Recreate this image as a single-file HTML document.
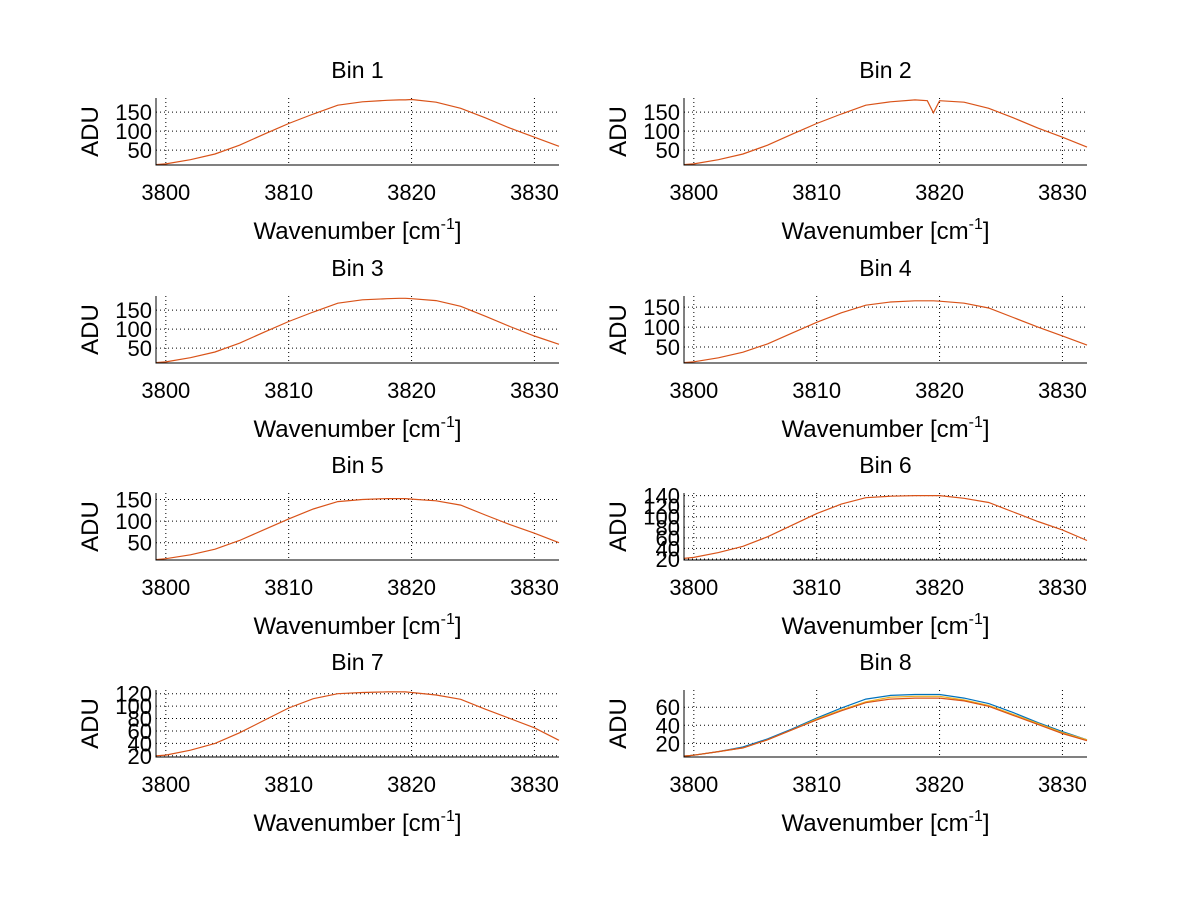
<!DOCTYPE html>
<html><head><meta charset="utf-8">
<style>
html,body{margin:0;padding:0;background:#fff;}
svg{display:block;font-family:"Liberation Sans",Arial,sans-serif;}
</style></head>
<body>
<svg id="fig" width="1200" height="901" viewBox="0 0 1200 901" xmlns="http://www.w3.org/2000/svg">
<rect width="1200" height="901" fill="#fff"/>
</svg>
<script>
// wavenumber sample positions
const wavenumbers = [3799.2,3800,3802,3804,3806,3808,3810,3812,3814,3816,3818,3819,3819.5,3820,3822,3824,3826,3828,3830,3832];
const xTicks = [3800,3810,3820,3830];
const binTitles = ["Bin 1","Bin 2","Bin 3","Bin 4","Bin 5","Bin 6","Bin 7","Bin 8"];
const yRanges = [[11,187],[11,187],[11,187],[10,178],[10,165],[18,145],[18,126],[5,79]];
const yTickSets = [[50,100,150],[50,100,150],[50,100,150],[50,100,150],[50,100,150],[20,40,60,80,100,120,140],[20,40,60,80,100,120],[20,40,60]];
const bin1 = [12,14,25,40,63,92,120,145,168,177,181,182,182,183,176,160,135,108,84,60];
const bin2 = [12,14,25,40,63,92,120,145,168,177,182,180,148,180,176,160,135,108,84,58];
const bin3 = [12,14,25,40,63,92,120,145,168,177,180,181,181,180,175,160,134,107,82,60];
const bin4 = [11,13,23,37,58,85,112,136,155,163,166,166,166,165,160,148,124,100,78,55];
const bin5 = [11,13,22,35,55,80,105,128,145,150,152,152,152,151,147,137,114,92,72,50];
const bin6 = [21,23,32,44,62,84,106,124,136,139,140,140,140,140,135,127,109,91,75,55];
const bin7 = [20,21,29,40,57,77,97,112,120,122,123,123,123,122,118,111,95,80,65,45];
const bin8blue = [6,7,11,16,25,36,48,59,69,73,74,74,74,74,70,64,54,43,33,24];
const bin8orange = [6,7,11,15,24,35,46,56,65,69,70,70,70,70,67,61,51,41,31,23];
const bin8yellow = [6,7,11,15,24,35,47,57,66,71,72,72,72,72,68,62,52,42,32,24];
const binSeries = [[bin1],[bin2],[bin3],[bin4],[bin5],[bin6],[bin7],[bin8blue,bin8yellow,bin8orange]];

const NS = "http://www.w3.org/2000/svg";
const svg = document.getElementById('fig');
const colLeft = [156,684], axW = 403, rowTop = [98,296,493,690], axH = 67;
const xMin = 3799.2, xMax = 3832;
function mk(tag, attrs, parent){const e=document.createElementNS(NS,tag);for(const k in attrs)e.setAttribute(k,attrs[k]);(parent||svg).appendChild(e);return e;}

binTitles.forEach((title,i)=>{
  const L = colLeft[i%2], T = rowTop[Math.floor(i/2)];
  const [y0,y1] = yRanges[i];
  const sx = v => L + (v-xMin)/(xMax-xMin)*axW;
  const sy = v => T + axH - (v-y0)/(y1-y0)*axH;
  const g = mk('g',{});
  
  
  xTicks.forEach(t=>{
    const l=mk('line',{x1:sx(t),x2:sx(t),y1:T,y2:T+axH,stroke:'#000','stroke-width':1,'stroke-dasharray':'1,3'},g);
    
    
  });
  yTickSets[i].forEach(t=>{
    const l=mk('line',{x1:L,x2:L+axW,y1:sy(t),y2:sy(t),stroke:'#000','stroke-width':1,'stroke-dasharray':'1,3'},g);
    
    
    const tx=mk('text',{x:L-4,y:sy(t)+8,'font-size':22,'text-anchor':'end',fill:'#000'},g);
    tx.textContent=t;
    
    
  });
  xTicks.forEach(t=>{
    const tx=mk('text',{x:sx(t),y:T+axH+35,'font-size':22,'text-anchor':'middle',fill:'#000'},g);
    tx.textContent=t;
    
    
  });
  const colors = binSeries[i].length>1 ? ['#0072bd','#edb120','#d95319'] : ['#d95319'];
  binSeries[i].forEach((s,k)=>{
    const d = s.map((v,j)=>(j?'L':'M')+sx(wavenumbers[j]).toFixed(1)+','+sy(v).toFixed(1)).join(' ');
    const p=mk('path',{d:d,fill:'none',stroke:colors[k],'stroke-width':1.2},g);
    
    
  });
  const ax=mk('path',{d:`M${L},${T} L${L},${T+axH} L${L+axW},${T+axH}`,fill:'none',stroke:'#000','stroke-width':1},g);
  
  
  const ti=mk('text',{x:L+axW/2,y:T-20,'font-size':23,'text-anchor':'middle',fill:'#000'},g);
  ti.textContent=title;
  
  
  const xl=mk('text',{x:L+axW/2,y:T+axH+74,'font-size':24,'text-anchor':'middle',fill:'#000'},g);
  xl.innerHTML='Wavenumber [cm<tspan font-size="16" dy="-10">-1</tspan><tspan dy="10">]</tspan>';
  
  
  const yl=mk('text',{x:0,y:0,'font-size':24,'text-anchor':'middle',fill:'#000',transform:`translate(${L-58},${T+axH/2}) rotate(-90)`},g);
  yl.textContent='ADU';
  
  
});
</script>
</body></html>
